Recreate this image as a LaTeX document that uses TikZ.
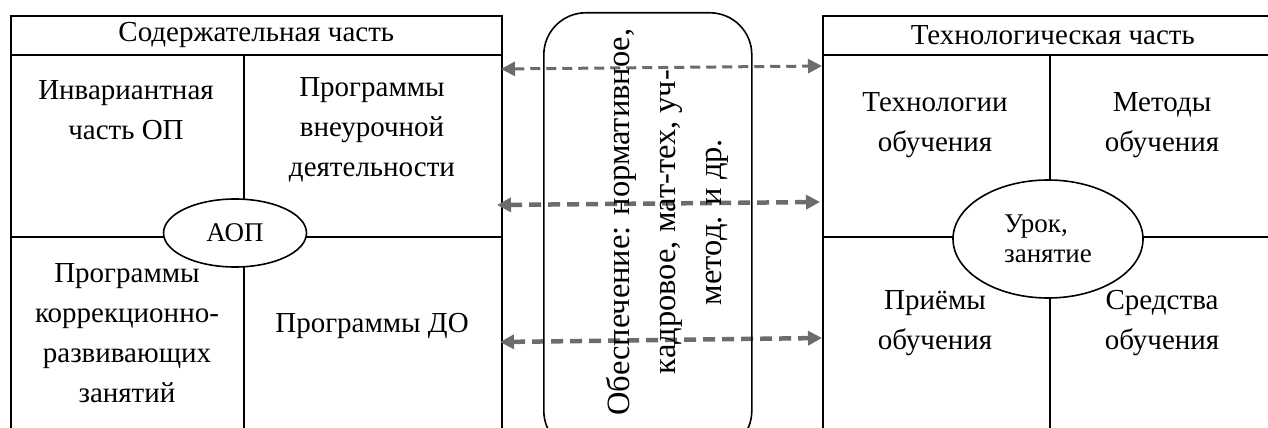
\documentclass[tikz,border=0pt]{standalone}
\usepackage{fontspec}
\setmainfont{Liberation Serif}
\usetikzlibrary{shapes.geometric, arrows.meta, positioning}

\begin{document}
\begin{tikzpicture}[x=1pt, y=-1pt]

          % Setup the styles for the boxes and labels
          \tikzset{cell/.style={draw, rectangle, line width=1.6pt,
                                inner sep=0pt, anchor=north west},
                   label text/.style={align=center,
                                      font=\fontsize{29}{40}\selectfont},
                   hub/.style={draw, ellipse, line width=1.6pt, fill=white,
                               inner sep=0pt},
                   link/.style={{Triangle[length=14pt,width=14pt]}-{Triangle[length=14pt,width=14pt]},
                                draw=gray!85!black}}
          \useasboundingbox (0,0) rectangle (1268,428);
          \clip (0,0) rectangle (1268,428);

          % Draw the content part
          \node[cell, minimum width=491, minimum height=39] at (10,15)   (content)  {};
          \node[cell, minimum width=233, minimum height=182] at (10,54)  (inv)      {};
          \node[cell, minimum width=258, minimum height=182] at (243,54) (extra)    {};
          \node[cell, minimum width=233, minimum height=210] at (10,236) (corr)     {};
          \node[cell, minimum width=258, minimum height=210] at (243,236) (addedu)  {};
          \node[label text] at (content.center) (content text) {Содержательная часть};
          \node[label text] at (126,110) (inv text)   {Инвариантная\\часть ОП};
          \node[label text] at (372,130) (extra text) {Программы\\внеурочной\\деятельности};
          \node[label text] at (127,333) (corr text)  {Программы\\коррекционно-\\развивающих\\занятий};
          \node[label text] at (372,326) (addedu text) {Программы ДО};
          \node[hub, minimum width=143, minimum height=68,
                font=\fontsize{27}{30}\selectfont] at (235,233) (aop) {АОП};

          % Draw the technology part
          \node[cell, minimum width=460, minimum height=39] at (822,15)   (tech)    {};
          \node[cell, minimum width=227, minimum height=182] at (822,54)  (techs)   {};
          \node[cell, minimum width=233, minimum height=182] at (1049,54) (methods) {};
          \node[cell, minimum width=227, minimum height=210] at (822,236) (ways)    {};
          \node[cell, minimum width=233, minimum height=210] at (1049,236) (means)  {};
          \node[label text] at (tech.center) (tech text) {Технологическая часть};
          \node[label text] at (935,125)  (techs text)   {Технологии\\обучения};
          \node[label text] at (1162,125) (methods text) {Методы\\обучения};
          \node[label text] at (935,323)  (ways text)    {Приёмы\\обучения};
          \node[label text] at (1162,323) (means text)   {Средства\\обучения};
          \node[hub, minimum width=190, minimum height=118, align=left,
                font=\fontsize{27}{30}\selectfont] at (1048,239) (lesson) {Урок,\\занятие};

          % Connect the two parts with arrows
          \coordinate (a1l) at (501,69);  \coordinate (a1r) at (822,66);
          \coordinate (a2l) at (497,205); \coordinate (a2r) at (820,202);
          \coordinate (a3l) at (500,342); \coordinate (a3r) at (822,338);
          \draw
             (a1l) edge[link, line width=3pt, dash pattern=on 10pt off 6pt] (a1r)
             (a2l) edge[link, line width=4.5pt, dash pattern=on 12pt off 7pt] (a2r)
             (a3l) edge[link, line width=4.5pt, dash pattern=on 12pt off 7pt] (a3r);

          % Draw the support box
          \node[cell, rounded corners=42pt, minimum width=208, minimum height=440]
             at (543,12) (support) {};
          \node[align=center, rotate=90, font=\fontsize{32.5}{46}\selectfont]
             at (667,222) (support text)
             {Обеспечение: нормативное,\\кадровое, мат-тех, уч-\\метод. и др.};
      \end{tikzpicture}
\end{document}
